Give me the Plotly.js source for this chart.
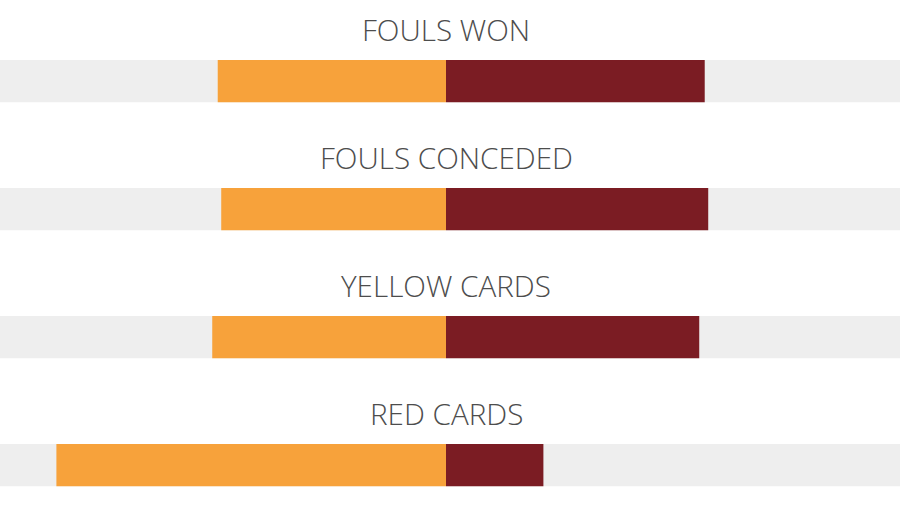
<!DOCTYPE html>
<html>
<head>
<meta charset="utf-8">
<script src="https://cdn.plot.ly/plotly-3.0.1.min.js"></script>
<style>
  html, body { margin: 0; padding: 0; background: #fff; }
  #chart { width: 900px; height: 506px; }
</style>
</head>
<body>
<div id="chart"></div>
<script>
var categories = ["FOULS WON", "FOULS CONCEDED", "YELLOW CARDS", "RED CARDS"];
var homeValues = [15, 18, 12, 4];
var awayValues = [17, 21, 13, 1];

// each row is shown as a share of the row total
var homeShare = homeValues.map((v, i) => v / (v + awayValues[i]));
var awayShare = awayValues.map((v, i) => v / (v + homeValues[i]));

var home = {
  type: 'bar',
  orientation: 'h',
  y: categories,
  x: homeShare.map(v => -v),
  width: 0.33,
  marker: { color: '#f7a23b' },
  hoverinfo: 'skip'
};

var away = {
  type: 'bar',
  orientation: 'h',
  y: categories,
  x: awayShare,
  width: 0.33,
  marker: { color: '#7b1c23' },
  hoverinfo: 'skip'
};

// grey track behind each row
var shapes = categories.map(function (c, i) {
  return {
    type: 'rect', xref: 'paper', yref: 'y', layer: 'below',
    x0: 0, x1: 1, y0: i - 0.165, y1: i + 0.165,
    fillcolor: '#eeeeee', line: { width: 0 }
  };
});

var annotations = categories.map(function (c) {
  return {
    x: 0, y: c, xref: 'x', yref: 'y', yshift: 51.5,
    text: c, showarrow: false,
    font: { family: 'Open Sans', size: 29.6, weight: 300, color: '#4d4d4d' }
  };
});

var layout = {
  width: 900, height: 506,
  margin: { l: 0, r: 0, t: 0, b: 0 },
  barmode: 'relative',
  showlegend: false,
  paper_bgcolor: '#fff',
  plot_bgcolor: '#fff',
  xaxis: { range: [-446 / 487, 454 / 487], visible: false, fixedrange: true },
  yaxis: { range: [3.32, -0.633], visible: false, fixedrange: true },
  shapes: shapes,
  annotations: annotations
};

Plotly.newPlot('chart', [home, away], layout, { displayModeBar: false, staticPlot: true });
</script>
</body>
</html>
